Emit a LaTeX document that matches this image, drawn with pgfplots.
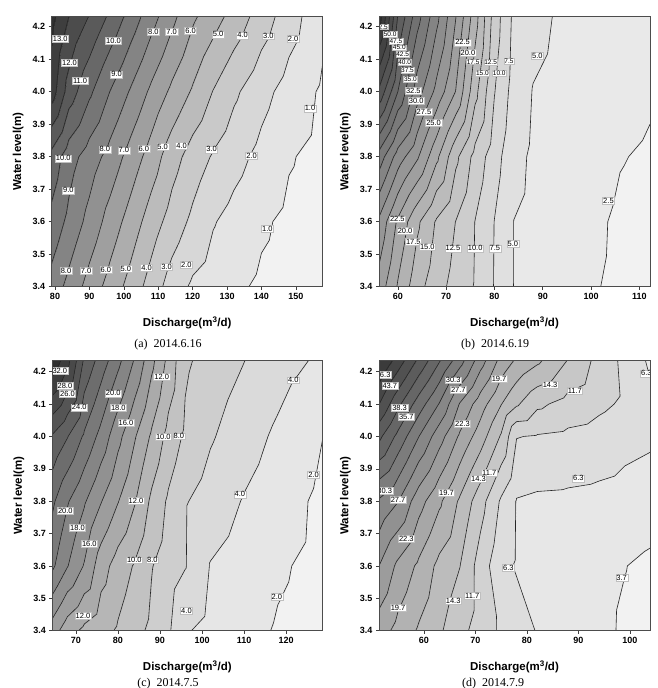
\documentclass[border=0pt]{standalone}
\usepackage{fontspec}
\setmainfont{Liberation Serif}
\setsansfont{Liberation Sans}
\usepackage{pgfplots}
\pgfplotsset{compat=1.18}
\usepackage{pgfplotstable}

% ---------- grey band colormaps (one colour per contour interval)
\newcount\cmk
\newcommand\makegraymap[2]{%
  \def\cmspec{}%
  \cmk=0
  \loop
    \pgfmathsetmacro\cmg{0.95-0.76*\the\cmk/(#2-1)}%
    \edef\cmspec{\cmspec gray(\the\numexpr100*\cmk\relax pt)=(\cmg);}%
    \advance\cmk by 1
  \ifnum\cmk<#2\repeat
  \edef\cmspec{\cmspec gray(\the\numexpr100*#2\relax pt)=(\cmg)}%
  \edef\cmtemp{\noexpand\pgfplotsset{colormap={#1}{\cmspec}}}%
  \cmtemp
}
\makegraymap{mapA}{15}
\makegraymap{mapB}{22}
\makegraymap{mapC}{17}
\makegraymap{mapD}{19}

% ---------- contour lines traced from the same grid (marching triangles)
\newcount\cellcnt
\newif\ifsa \newif\ifsb
\def\CL{0}
\newcommand\addcp[6]{%
  \edef\cT{\fpeval{(\CL-(#3))/((#6)-(#3))}}%
  \global\advance\cellcnt by 1
  \expandafter\xdef\csname cp\the\cellcnt\endcsname{(\fpeval{round(#1+\cT*((#4)-(#1)),4)},\fpeval{round(#2+\cT*((#5)-(#2)),5)})}%
}
\newcommand\edgetest[6]{%
  \ifdim#3pt>\CL pt\relax\satrue\else\safalse\fi
  \ifdim#6pt>\CL pt\relax\sbtrue\else\sbfalse\fi
  \ifsa\ifsb\else\addcp{#1}{#2}{#3}{#4}{#5}{#6}\fi\else\ifsb\addcp{#1}{#2}{#3}{#4}{#5}{#6}\fi\fi
}
\newcommand\dotri[9]{%
  \global\cellcnt=0
  \edgetest{#1}{#2}{#3}{#4}{#5}{#6}%
  \edgetest{#4}{#5}{#6}{#7}{#8}{#9}%
  \edgetest{#7}{#8}{#9}{#1}{#2}{#3}%
  \ifnum\cellcnt=2 \xdef\segs{\segs\csname cp1\endcsname\csname cp2\endcsname(nan,nan) }\fi
}
\newcommand\docell[3]{%
  \edef\xa{\csname#1x#3\endcsname}%
  \edef\xb{\csname#1x\the\numexpr#3+1\relax\endcsname}%
  \edef\ya{\csname#1y#2\endcsname}%
  \edef\yb{\csname#1y\the\numexpr#2+1\relax\endcsname}%
  \edef\zaa{\csname#1z#2:#3\endcsname}%
  \edef\zba{\csname#1z#2:\the\numexpr#3+1\relax\endcsname}%
  \edef\zab{\csname#1z\the\numexpr#2+1\relax:#3\endcsname}%
  \edef\zbb{\csname#1z\the\numexpr#2+1\relax:\the\numexpr#3+1\relax\endcsname}%
  \dotri\xa\ya\zaa\xb\ya\zba\xa\yb\zab
  \dotri\xb\ya\zba\xb\yb\zbb\xa\yb\zab
}
\newcommand\gridload[3]{% table, prefix, ncols
  \pgfplotstablegetrowsof{#1}%
  \pgfmathtruncatemacro\gN{\pgfplotsretval-1}%
  \foreach \k in {0,...,\gN}{%
    \pgfmathtruncatemacro\gr{floor(\k/#3)}%
    \pgfmathtruncatemacro\gc{\k-\gr*#3}%
    \pgfplotstablegetelem{\k}{x}\of{#1}\expandafter\xdef\csname #2x\gc\endcsname{\pgfplotsretval}%
    \pgfplotstablegetelem{\k}{y}\of{#1}\expandafter\xdef\csname #2y\gr\endcsname{\pgfplotsretval}%
    \pgfplotstablegetelem{\k}{z}\of{#1}\expandafter\xdef\csname #2z\gr:\gc\endcsname{\pgfplotsretval}%
  }%
}
\newcommand\contours[5]{% prefix, nrows, ncols, levels, result macro
  \gdef\segs{}%
  \pgfmathtruncatemacro\rmax{#2-2}\pgfmathtruncatemacro\cmax{#3-2}%
  \foreach \CL in {#4}{%
    \foreach \gri in {0,...,\rmax}{%
      \foreach \gcj in {0,...,\cmax}{\docell{#1}{\gri}{\gcj}}}}%
  \global\let#5\segs
}

% (a) 2014.6.16
\pgfplotstableread{
x y z
79.04 3.4 8.6
84 3.4 7.70
90 3.4 6.62
96 3.4 5.62
102 3.4 4.63
108 3.4 3.57
114 3.4 2.53
120 3.4 1.84
126 3.4 1.51
132 3.4 1.18
140 3.4 0.85
148 3.4 0.65
157.8 3.4 0.45
79.04 3.6 9.7
84 3.6 8.74
90 3.6 7.67
96 3.6 6.59
102 3.6 5.57
108 3.6 4.52
114 3.6 3.57
120 3.6 2.78
126 3.6 2.07
132 3.6 1.65
140 3.6 1.14
148 3.6 0.80
157.8 3.6 0.55
79.04 3.8 10.67
84 3.8 9.45
90 3.8 8.53
96 3.8 7.64
102 3.8 6.60
108 3.8 5.56
114 3.8 4.43
120 3.8 3.56
126 3.8 2.90
132 3.8 2.37
140 3.8 1.71
148 3.8 1.08
157.8 3.8 0.70
79.04 4.0 13.5
84 4.0 11.56
90 4.0 10.2
96 4.0 8.98
102 4.0 7.89
108 4.0 6.79
114 4.0 5.78
120 4.0 4.88
126 4.0 3.96
132 4.0 3.19
140 4.0 2.34
148 4.0 1.60
157.8 4.0 0.85
79.04 4.231 14.3
84 4.231 13.0
90 4.231 11.95
96 4.231 10.8
102 4.231 9.6
108 4.231 8.4
114 4.231 7.27
120 4.231 6.18
126 4.231 5.41
132 4.231 4.64
140 4.231 3.53
148 4.231 2.47
157.8 4.231 1.25
}\tabA

% (b) 2014.6.19
\pgfplotstableread{
x y z
56.1 3.4 24
60 3.4 19.76
64 3.4 15.96
68 3.4 13.5
72 3.4 11.57
76 3.4 9.82
80 3.4 7.38
84 3.4 4.97
88 3.4 4.39
94 3.4 3.52
100 3.4 2.65
106 3.4 2.2
112.2 3.4 1.9
56.1 3.6 27
60 3.6 22.08
64 3.6 18
68 3.6 14.72
72 3.6 12.45
76 3.6 9.95
80 3.6 7.45
84 3.6 4.98
88 3.6 4.46
94 3.6 3.65
100 3.6 2.84
106 3.6 2.25
112.2 3.6 2.0
56.1 3.8 34
60 3.8 28.85
64 3.8 25.4
68 3.8 20.6
72 3.8 15.6
76 3.8 11.67
80 3.8 8.57
84 3.8 5.71
88 3.8 4.65
94 3.8 3.96
100 3.8 3.27
106 3.8 2.58
112.2 3.8 2.3
56.1 4.0 44.5
60 4.0 37.5
64 4.0 31.2
68 4.0 26.8
72 4.0 22.4
76 4.0 15.8
80 4.0 10.1
84 4.0 6.5
88 4.0 4.9
94 4.0 4.2
100 4.0 3.6
106 4.0 3.1
112.2 4.0 2.7
56.1 4.234 54
60 4.234 42.4
64 4.234 36.1
68 4.234 30.8
72 4.234 25.1
76 4.234 18.6
80 4.234 11.35
84 4.234 6.95
88 4.234 5.8
94 4.234 4.6
100 4.234 4.0
106 4.234 3.5
112.2 4.234 3.1
}\tabB

% (c) 2014.7.5
\pgfplotstableread{
x y z
64.4 3.4 15
68 3.4 12.87
72 3.4 11.56
76 3.4 10.67
80 3.4 9.78
84 3.4 8.6
88 3.4 7.6
92 3.4 6.3
96 3.4 4.2
102 3.4 3.4
110 3.4 2.56
118 3.4 1.85
128.6 3.4 1.3
64.4 3.6 20.4
68 3.6 18.1
72 3.6 15.85
76 3.6 12.89
80 3.6 11.13
84 3.6 9.82
88 3.6 8.1
92 3.6 7.01
96 3.6 6.1
102 3.6 3.91
110 3.6 3.06
118 3.6 2.23
128.6 3.6 1.5
64.4 3.8 22.4
68 3.8 20.2
72 3.8 18.24
76 3.8 16.1
80 3.8 14.1
84 3.8 12.15
88 3.8 9.6
92 3.8 7.69
96 3.8 6.15
102 3.8 5.11
110 3.8 3.87
118 3.8 2.85
128.6 3.8 1.6
64.4 4.0 25.8
68 4.0 24.1
72 4.0 21.71
76 4.0 19.33
80 4.0 16.62
84 4.0 14.18
88 4.0 11.7
92 4.0 9.35
96 4.0 7.64
102 4.0 6.21
110 4.0 4.88
118 4.0 3.64
128.6 4.0 2.03
64.4 4.234 33.6
68 4.234 30.7
72 4.234 25.67
76 4.234 23.1
80 4.234 20.57
84 4.234 17.8
88 4.234 14.57
92 4.234 11.43
96 4.234 8.33
102 4.234 7.2
110 4.234 6.03
118 4.234 4.88
128.6 4.234 3.6
}\tabC

% (d) 2014.7.9
\pgfplotstableread{
x y z
51.3 3.4 21
55 3.4 18.8
59 3.4 16.7
63 3.4 14.73
67 3.4 12.55
71 3.4 10.44
75 3.4 8.57
78 3.4 7.48
82 3.4 6.2
88 3.4 5.19
94 3.4 4.18
99 3.4 3.4
103.9 3.4 3.0
51.3 3.6 25
55 3.6 21.72
59 3.6 19.15
63 3.6 16.28
67 3.6 14.38
71 3.6 10.48
75 3.6 7.05
78 3.6 6.11
82 3.6 5.64
88 3.6 4.94
94 3.6 4.24
99 3.6 3.72
103.9 3.6 3.2
51.3 3.8 30.0
55 3.8 27.75
59 3.8 23.46
63 3.8 20.18
67 3.8 16.58
71 3.8 12.75
75 3.8 8.63
78 3.8 6.2
82 3.8 5.9
88 3.8 5.8
94 3.8 5.6
99 3.8 5.3
103.9 3.8 4.9
51.3 4.0 39
55 4.0 34.92
59 4.0 30.4
63 4.0 26.16
67 4.0 21.9
71 4.0 18.28
75 4.0 14.06
78 4.0 9.1
82 4.0 8.8
88 4.0 8.4
94 4.0 7.96
99 4.0 7.2
103.9 4.0 6.8
51.3 4.1 43.7
55 4.1 38.97
59 4.1 34.4
63 4.1 30.2
67 4.1 24.8
71 4.1 20.9
75 4.1 17.1
78 4.1 14.7
82 4.1 12.25
88 4.1 10.7
94 4.1 9.57
99 4.1 8.6
103.9 4.1 7.0
51.3 4.234 49.2
55 4.234 45.1
59 4.234 40.42
63 4.234 35.9
67 4.234 31.4
71 4.234 26.2
75 4.234 21.44
78 4.234 19.24
82 4.234 17.5
88 4.234 14.2
94 4.234 10.8
99 4.234 8.32
103.9 4.234 5.9
}\tabD

\gridload{\tabA}{A}{13}
\gridload{\tabB}{B}{13}
\gridload{\tabC}{C}{13}
\gridload{\tabD}{D}{13}
\contours{A}{5}{13}{1,2,3,4,5,6,7,8,9,10,11,12,13,14}{\segsA}
\contours{B}{5}{13}{2.5,5,7.5,10,12.5,15,17.5,20,22.5,25,27.5,30,32.5,35,37.5,40,42.5,45,47.5,50,52.5}{\segsB}
\contours{C}{5}{13}{2,4,6,8,10,12,14,16,18,20,22,24,26,28,30,32}{\segsC}
\contours{D}{6}{13}{3.6667,6.3333,9,11.6667,14.3333,17,19.6667,22.3333,25,27.6667,30.3333,33,35.6667,38.3333,41,43.6667,46.3333,49}{\segsD}

\newcommand\tickfont{\fontsize{9}{10}\selectfont\sffamily\bfseries}
\newcommand\labfont{\fontsize{11.5}{13}\selectfont\sffamily\bfseries}
\pgfplotsset{
  cplot/.style={
    scale only axis, anchor=south west,
    width=271pt, height=270pt,
    ymin=3.4,
    ytick={3.4,3.5,3.6,3.7,3.8,3.9,4.0,4.1,4.2},
    /pgf/number format/assume math mode=true,
    xticklabel style={font=\tickfont},
    yticklabel style={font=\tickfont,/pgf/number format/fixed,/pgf/number format/fixed zerofill,/pgf/number format/precision=1},
    xlabel={Discharge(m\textsuperscript{3}/d)},
    ylabel={Water level(m)},
    every axis x label/.style={at={(axis description cs:0.5,-0.133)}, anchor=center, font=\labfont},
    every axis y label/.style={at={(axis description cs:-0.124,0.5)}, rotate=90, anchor=center, font=\labfont},
    tick align=outside, major tick length=3pt,
    tick style={black!75, line width=0.6pt},
    tick pos=left,
    axis line style={black!70, line width=0.8pt},
    axis on top,
    colormap access=piecewise constant,
    enlargelimits=false,
  },
  cline/.style={black!85, line width=0.6pt, line cap=round, line join=round, unbounded coords=jump, forget plot, mark=none},
}
\tikzset{
  lbl/.style={fill=white, draw=black!25, line width=0.3pt, inner sep=0.8pt,
    font=\fontsize{7.5}{8}\selectfont\sffamily},
  slbl/.style={lbl, font=\fontsize{6.5}{7}\selectfont\sffamily, inner sep=0.5pt},
  subcap/.style={font=\fontsize{12}{14}\selectfont},
}

\begin{document}
\begin{tikzpicture}
\useasboundingbox (0pt,0pt) rectangle (657pt,688pt);

% ---------------- (a)
\begin{axis}[cplot, at={(51.7pt,401.3pt)},
  xmin=79.04, xmax=157.8, ymax=4.231,
  xtick={80,90,100,110,120,130,140,150},
  colormap name=mapA, point meta min=0, point meta max=15]
\addplot[surf, shader=interp, mesh/cols=13, point meta=explicit] table[x=x,y=y,meta=z] {\tabA};
\edef\doplot{\noexpand\addplot[cline] coordinates {\segsA};}\doplot
\node[lbl] at (axis cs:81.5,4.164) {13.0};
\node[lbl] at (axis cs:97,4.157) {10.0};
\node[lbl] at (axis cs:108.6,4.185) {8.0};
\node[lbl] at (axis cs:113.9,4.185) {7.0};
\node[lbl] at (axis cs:119.4,4.187) {6.0};
\node[lbl] at (axis cs:127.4,4.177) {5.0};
\node[lbl] at (axis cs:134.5,4.174) {4.0};
\node[lbl] at (axis cs:142,4.171) {3.0};
\node[lbl] at (axis cs:149.2,4.164) {2.0};
\node[lbl] at (axis cs:84.2,4.09) {12.0};
\node[lbl] at (axis cs:87.3,4.033) {11.0};
\node[lbl] at (axis cs:97.9,4.054) {9.0};
\node[lbl] at (axis cs:154.1,3.949) {1.0};
\node[lbl] at (axis cs:94.5,3.823) {8.0};
\node[lbl] at (axis cs:100,3.82) {7.0};
\node[lbl] at (axis cs:105.8,3.824) {6.0};
\node[lbl] at (axis cs:111.3,3.831) {5.0};
\node[lbl] at (axis cs:116.8,3.834) {4.0};
\node[lbl] at (axis cs:125.5,3.823) {3.0};
\node[lbl] at (axis cs:137.1,3.802) {2.0};
\node[lbl] at (axis cs:82.4,3.795) {10.0};
\node[lbl] at (axis cs:83.9,3.697) {9.0};
\node[lbl] at (axis cs:141.7,3.579) {1.0};
\node[lbl] at (axis cs:83.2,3.449) {8.0};
\node[lbl] at (axis cs:89,3.449) {7.0};
\node[lbl] at (axis cs:94.8,3.453) {6.0};
\node[lbl] at (axis cs:100.6,3.456) {5.0};
\node[lbl] at (axis cs:106.6,3.459) {4.0};
\node[lbl] at (axis cs:112.4,3.462) {3.0};
\node[lbl] at (axis cs:118.2,3.467) {2.0};
\end{axis}

% ---------------- (b)
\begin{axis}[cplot, at={(379pt,401.3pt)},
  xmin=56.1, xmax=112.2, ymax=4.231,
  xtick={60,70,80,90,100,110},
  colormap name=mapB, point meta min=0, point meta max=55]
\addplot[surf, shader=interp, mesh/cols=13, point meta=explicit] table[x=x,y=y,meta=z] {\tabB};
\edef\doplot{\noexpand\addplot[cline] coordinates {\segsB};}\doplot
\node[slbl] at (axis cs:56.6,4.200) {52.5};
\node[slbl] at (axis cs:58.4,4.177) {50.0};
\node[slbl] at (axis cs:59.6,4.156) {47.5};
\node[slbl] at (axis cs:60.3,4.136) {45.0};
\node[slbl] at (axis cs:61.0,4.115) {42.5};
\node[slbl] at (axis cs:61.4,4.092) {40.0};
\node[slbl] at (axis cs:62.0,4.067) {37.5};
\node[slbl] at (axis cs:62.6,4.039) {35.0};
\node[lbl] at (axis cs:63.2,4.003) {32.5};
\node[lbl] at (axis cs:63.8,3.972) {30.0};
\node[lbl] at (axis cs:65.4,3.938) {27.5};
\node[lbl] at (axis cs:67.4,3.905) {25.0};
\node[lbl] at (axis cs:73.4,4.152) {22.5};
\node[lbl] at (axis cs:74.5,4.120) {20.0};
\node[slbl] at (axis cs:75.6,4.092) {17.5};
\node[slbl] at (axis cs:77.5,4.058) {15.0};
\node[slbl] at (axis cs:79.2,4.092) {12.5};
\node[slbl] at (axis cs:81.0,4.058) {10.0};
\node[slbl] at (axis cs:83.0,4.094) {7.5};
\node[lbl] at (axis cs:88.9,4.11) {5.0};
\node[lbl] at (axis cs:103.6,3.664) {2.5};
\node[lbl] at (axis cs:59.9,3.608) {22.5};
\node[lbl] at (axis cs:61.5,3.572) {20.0};
\node[lbl] at (axis cs:63.2,3.538) {17.5};
\node[lbl] at (axis cs:66.1,3.523) {15.0};
\node[lbl] at (axis cs:71.4,3.518) {12.5};
\node[lbl] at (axis cs:76.0,3.518) {10.0};
\node[lbl] at (axis cs:80.1,3.518) {7.5};
\node[lbl] at (axis cs:83.8,3.533) {5.0};
\end{axis}

% ---------------- (c)
\begin{axis}[cplot, at={(52.3pt,57.3pt)}, width=270pt,
  xmin=64.4, xmax=128.6, ymax=4.234,
  xtick={70,80,90,100,110,120},
  colormap name=mapC, point meta min=0, point meta max=34]
\addplot[surf, shader=interp, mesh/cols=13, point meta=explicit] table[x=x,y=y,meta=z] {\tabC};
\edef\doplot{\noexpand\addplot[cline] coordinates {\segsC};}\doplot
\node[lbl] at (axis cs:66.2,4.203) {32.0};
\node[lbl] at (axis cs:67.4,4.156) {28.0};
\node[lbl] at (axis cs:68.0,4.131) {26.0};
\node[lbl] at (axis cs:70.8,4.09) {24.0};
\node[lbl] at (axis cs:78.9,4.133) {20.0};
\node[lbl] at (axis cs:80.1,4.089) {18.0};
\node[lbl] at (axis cs:81.9,4.043) {16.0};
\node[lbl] at (axis cs:90.4,4.185) {12.0};
\node[lbl] at (axis cs:90.8,3.999) {10.0};
\node[lbl] at (axis cs:94.5,4.001) {8.0};
\node[lbl] at (axis cs:121.7,4.174) {4.0};
\node[lbl] at (axis cs:126.5,3.881) {2.0};
\node[lbl] at (axis cs:109.0,3.821) {4.0};
\node[lbl] at (axis cs:84.3,3.801) {12.0};
\node[lbl] at (axis cs:67.5,3.771) {20.0};
\node[lbl] at (axis cs:70.4,3.718) {18.0};
\node[lbl] at (axis cs:73.2,3.668) {16.0};
\node[lbl] at (axis cs:83.9,3.618) {10.0};
\node[lbl] at (axis cs:88.2,3.618) {8.0};
\node[lbl] at (axis cs:117.8,3.505) {2.0};
\node[lbl] at (axis cs:96.3,3.462) {4.0};
\node[lbl] at (axis cs:71.7,3.446) {12.0};
\end{axis}

% ---------------- (d)
\begin{axis}[cplot, at={(379pt,57.3pt)},
  xmin=51.3, xmax=103.9, ymax=4.234,
  xtick={60,70,80,90,100},
  colormap name=mapD, point meta min=1, point meta max=51.6667]
\addplot[surf, shader=interp, mesh/cols=13, point meta=explicit] table[x=x,y=y,meta=z] {\tabD};
\edef\doplot{\noexpand\addplot[cline] coordinates {\segsD};}\doplot
\node[lbl] at (axis cs:52.1,4.19) {46.3};
\node[lbl] at (axis cs:53.4,4.156) {43.7};
\node[lbl] at (axis cs:55.3,4.089) {38.3};
\node[lbl] at (axis cs:56.6,4.061) {35.7};
\node[lbl] at (axis cs:65.7,4.174) {30.3};
\node[lbl] at (axis cs:66.7,4.144) {27.7};
\node[lbl] at (axis cs:67.5,4.039) {22.3};
\node[lbl] at (axis cs:74.6,4.178) {19.7};
\node[lbl] at (axis cs:84.5,4.159) {14.3};
\node[lbl] at (axis cs:89.3,4.141) {11.7};
\node[lbl] at (axis cs:103.2,4.195) {6.3};
\node[lbl] at (axis cs:72.7,3.888) {11.7};
\node[lbl] at (axis cs:70.6,3.869) {14.3};
\node[lbl] at (axis cs:90.0,3.871) {6.3};
\node[lbl] at (axis cs:52.4,3.833) {30.3};
\node[lbl] at (axis cs:55.0,3.804) {27.7};
\node[lbl] at (axis cs:64.4,3.827) {19.7};
\node[lbl] at (axis cs:56.6,3.685) {22.3};
\node[lbl] at (axis cs:76.4,3.595) {6.3};
\node[lbl] at (axis cs:98.4,3.564) {3.7};
\node[lbl] at (axis cs:55.0,3.471) {19.7};
\node[lbl] at (axis cs:65.7,3.492) {14.3};
\node[lbl] at (axis cs:69.4,3.508) {11.7};
\end{axis}

\node[subcap] at (168pt,343pt) {(a)\hspace{0.5em}2014.6.16};
\node[subcap] at (495pt,343pt) {(b)\hspace{0.5em}2014.6.19};
\node[subcap] at (168pt,4pt) {(c)\hspace{0.5em}2014.7.5};
\node[subcap] at (493pt,4pt) {(d)\hspace{0.5em}2014.7.9};
\end{tikzpicture}
\end{document}
